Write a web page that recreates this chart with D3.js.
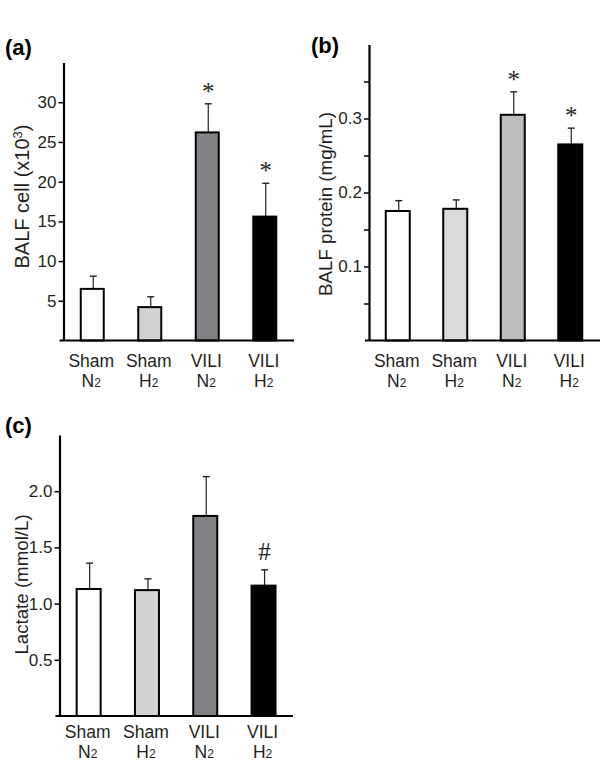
<!DOCTYPE html>
<html>
<head>
<meta charset="utf-8">
<script src="https://cdn.jsdelivr.net/npm/d3@7"></script>
<style>
  body { margin: 0; background: #fff; }
  svg { display: block; font-family: "Liberation Sans", Arial, sans-serif; }
</style>
</head>
<body>
<svg id="chart" width="600" height="764"></svg>
<script>
// groups, two lines each (second line gets a subscript 2)
const groupTop = ['Sham', 'Sham', 'VILI', 'VILI'];
const groupGas = ['N', 'H', 'N', 'H'];

// (a) BALF cell counts (x10^3), mean and SD
const cellMean = [6.5, 4.2, 26.2, 15.6];
const cellSD = [1.6, 1.3, 3.6, 4.2];
const cellMarks = ['', '', '*', '*'];
const cellTicks = [5, 10, 15, 20, 25, 30];

// (b) BALF protein (mg/mL)
const proteinMean = [0.175, 0.178, 0.305, 0.265];
const proteinSD = [0.014, 0.012, 0.031, 0.022];
const proteinMarks = ['', '', '*', '*'];
const proteinTicks = [0.1, 0.2, 0.3];
const proteinMinor = [0.05, 0.15, 0.25, 0.35];

// (c) lactate (mmol/L)
const lactateMean = [1.13, 1.12, 1.78, 1.16];
const lactateSD = [0.23, 0.10, 0.35, 0.14];
const lactateMarks = ['', '', '', '#'];
const lactateTicks = [0.5, 1.0, 1.5, 2.0];

const svg = d3.select('#chart');
const ink = '#231f20';

const drawPanel = (p) => {
  const g = svg.append('g');

  const y = d3.scaleLinear().domain([0, p.max]).range([p.base, p.top]);
  const x = d3.scalePoint().domain(d3.range(p.mean.length))
    .range([p.x0, p.x0 + p.step * p.mean.length]).padding(0.5);

  // y axis
  const yAxis = d3.axisLeft(y)
    .tickValues(p.ticks.concat(p.minor || []))
    .tickFormat((d) => (p.ticks.includes(d) ? p.fmt(d) : ''))
    .tickSize(5)
    .tickPadding(2)
    .tickSizeOuter(0);

  const ya = g.append('g')
    .attr('transform', `translate(${p.x0},0)`)
    .call(yAxis);
  ya.select('.domain').attr('stroke', '#000').attr('stroke-width', 2.2);
  ya.selectAll('.tick line').attr('stroke', '#000').attr('stroke-width', 1.5);
  ya.selectAll('.tick text')
    .attr('fill', ink)
    .style('font-size', '17px')
    .style('font-family', '"Liberation Sans", Arial, sans-serif');

  // bars
  const bw = p.barW;
  const idx = d3.range(p.mean.length);

  g.selectAll('.err').data(idx).enter().append('g')
    .each(function (i) {
      const e = d3.select(this);
      const cx = x(i) + 1;
      e.append('line')
        .attr('x1', cx).attr('x2', cx)
        .attr('y1', y(p.mean[i])).attr('y2', y(p.mean[i] + p.sd[i]))
        .attr('stroke', ink).attr('stroke-width', 1.2);
      e.append('line')
        .attr('x1', cx - 3.5).attr('x2', cx + 3.5)
        .attr('y1', y(p.mean[i] + p.sd[i])).attr('y2', y(p.mean[i] + p.sd[i]))
        .attr('stroke', ink).attr('stroke-width', 1.4);
    });

  g.selectAll('.bar').data(idx).enter().append('rect')
    .attr('x', (i) => x(i) - bw / 2)
    .attr('width', bw)
    .attr('y', (i) => y(p.mean[i]))
    .attr('height', (i) => y(0) - y(p.mean[i]))
    .attr('fill', (i) => p.fills[i])
    .attr('stroke', '#000')
    .attr('stroke-width', 2);

  // significance marks
  g.selectAll('.mark').data(idx.filter((i) => p.marks[i])).enter().append('text')
    .attr('x', (i) => x(i) + 1)
    .attr('y', (i) => y(p.mean[i] + p.sd[i]) - (p.marks[i] === '#' ? 10 : 4))
    .attr('text-anchor', 'middle')
    .attr('fill', ink)
    .style('font-family', '"Liberation Serif", "Times New Roman", serif')
    .style('font-size', '25px')
    .text((i) => p.marks[i]);

  // x axis line
  g.append('line')
    .attr('x1', p.x0 - 4).attr('x2', p.xEnd)
    .attr('y1', y(0)).attr('y2', y(0))
    .attr('stroke', '#000').attr('stroke-width', 2.2);

  // group labels
  const lab = g.selectAll('.lab').data(idx).enter().append('text')
    .attr('text-anchor', 'middle')
    .attr('fill', ink)
    .style('font-size', '17.5px');
  lab.append('tspan')
    .attr('x', (i) => x(i) - 1)
    .attr('y', y(0) + p.labGap)
    .text((i) => groupTop[i]);
  const l2 = lab.append('tspan')
    .attr('x', (i) => x(i) - 1)
    .attr('y', y(0) + p.labGap + 20);
  l2.append('tspan').text((i) => groupGas[i]);
  l2.append('tspan').style('font-size', '12px').text('2');

  // y title
  const tt = g.append('text')
    .attr('transform', `translate(${p.titleX},${p.titleY}) rotate(-90)`)
    .attr('text-anchor', 'middle')
    .attr('fill', ink)
    .style('font-size', `${p.titleSize}px`);
  tt.append('tspan').text(p.title);
  if (p.sup) {
    tt.append('tspan').attr('dy', -7).style('font-size', '13px').text(p.sup);
    tt.append('tspan').attr('dy', 7).text(')');
  }

  // panel letter
  g.append('text')
    .attr('x', p.letterX).attr('y', p.letterY)
    .attr('fill', '#000')
    .style('font-size', '22px')
    .style('font-weight', 'bold')
    .text(p.letter);
};

drawPanel({
  letter: '(a)', letterX: 5, letterY: 55,
  mean: cellMean, sd: cellSD, marks: cellMarks,
  ticks: cellTicks, fmt: (d) => d, max: 35,
  base: 340.5, top: 62.5, x0: 63.5, step: 57.5, barW: 23, xEnd: 294,
  fills: ['#ffffff', '#d1d3d4', '#808285', '#000000'],
  title: 'BALF cell (x10', sup: '3', titleX: 28.5, titleY: 196.5, titleSize: 20, labGap: 26,
});

drawPanel({
  letter: '(b)', letterX: 311, letterY: 53,
  mean: proteinMean, sd: proteinSD, marks: proteinMarks,
  ticks: proteinTicks, minor: proteinMinor, fmt: d3.format('.1f'), max: 0.4,
  base: 340.5, top: 44.5, x0: 369, step: 57.5, barW: 24, xEnd: 600,
  fills: ['#ffffff', '#d9d9d9', '#bdbdbd', '#000000'],
  title: 'BALF protein (mg/mL)', titleX: 331.5, titleY: 204, titleSize: 18.7, labGap: 26,
});

drawPanel({
  letter: '(c)', letterX: 5, letterY: 433,
  mean: lactateMean, sd: lactateSD, marks: lactateMarks,
  ticks: lactateTicks, fmt: d3.format('.1f'), max: 2.5,
  base: 716, top: 435, x0: 59.5, step: 58.3, barW: 24, xEnd: 293,
  fills: ['#ffffff', '#d1d3d4', '#808285', '#000000'],
  title: 'Lactate (mmol/L)', titleX: 27.5, titleY: 584.5, titleSize: 18.7, labGap: 22,
});
</script>
</body>
</html>
